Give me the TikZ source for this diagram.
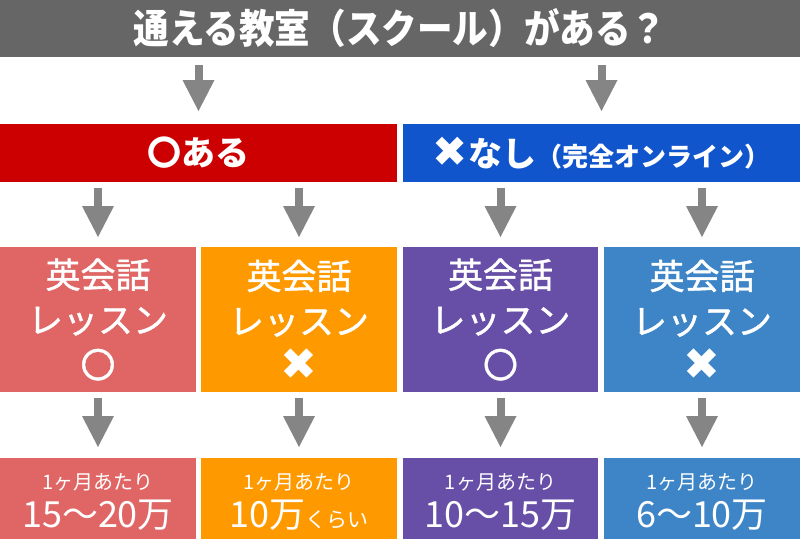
\documentclass[tikz,border=0pt]{standalone}
\usepackage{graphicx}
\usepackage{fontspec}
\setmainfont{Noto Sans CJK JP}
\newfontfamily\medfont[FakeBold=1.2]{Noto Sans CJK JP}
\newfontfamily\symfont{DejaVu Sans}
\usetikzlibrary{arrows.meta}
\definecolor{topgray}{HTML}{666666}
\definecolor{arrowgray}{HTML}{858585}
\definecolor{yesred}{HTML}{CC0000}
\definecolor{noblue}{HTML}{1155CC}
\definecolor{salmon}{HTML}{E06666}
\definecolor{orangeb}{HTML}{FF9900}
\definecolor{purpleb}{HTML}{674EA7}
\definecolor{blueb}{HTML}{3D85C6}
\newcommand{\crossmark}[1]{{\symfont\fontsize{#1}{#1}\selectfont\char"2716}}
\begin{document}
\begin{tikzpicture}[x=1pt,y=-1pt,
  every node/.style={inner sep=0pt, outer sep=0pt, text=white},
  barbox/.style={rectangle, minimum width=397pt, minimum height=58pt,
     font=\bfseries\fontsize{34}{40}\selectfont},
  midbox/.style={rectangle, minimum height=145pt, align=center,
     font=\medfont\fontsize{35}{45}\selectfont},
  lowbox/.style={rectangle, minimum height=81pt},
  smalltxt/.style={anchor=base, font=\fontsize{20}{24}\selectfont},
  bigtxt/.style={anchor=base, font=\fontsize{36}{40}\selectfont},
  arr/.style={draw=arrowgray, line width=8pt,
     -{Triangle[width=32pt,length=31pt,line width=0pt]}}
]
\useasboundingbox (0,0) rectangle (800,539);
\fill[white] (0,0) rectangle (800,539);

\node[rectangle, fill=topgray, minimum width=800pt, minimum height=57pt,
  font=\bfseries\fontsize{40}{44}\selectfont] (title) at (400,28.5)
  {\scalebox{0.89}[1]{通える教室（スクール）がある？}};

\node[barbox, fill=yesred] (yes) at (198.5,153) {〇ある};
\node[barbox, fill=noblue] (no) at (601.5,153)
  {\crossmark{42}なし{\fontsize{26}{30}\selectfont （完全オンライン）}};

\node[midbox, fill=salmon, minimum width=196pt] (m1) at (98,319.5)
  {英会話\\レッスン\\〇};
\node[midbox, fill=orangeb, minimum width=196pt] (m2) at (299,319.5)
  {英会話\\レッスン\\\crossmark{44}};
\node[midbox, fill=purpleb, minimum width=195pt] (m3) at (500.5,319.5)
  {英会話\\レッスン\\〇};
\node[midbox, fill=blueb, minimum width=196pt] (m4) at (702,319.5)
  {英会話\\レッスン\\\crossmark{44}};

\node[lowbox, fill=salmon, minimum width=196pt] (b1) at (98,498.5) {};
\node[lowbox, fill=orangeb, minimum width=196pt] (b2) at (299,498.5) {};
\node[lowbox, fill=purpleb, minimum width=195pt] (b3) at (500.5,498.5) {};
\node[lowbox, fill=blueb, minimum width=196pt] (b4) at (702,498.5) {};

\node[smalltxt] (s1) at (98,489) {1ヶ月あたり};
\node[smalltxt] (s2) at (299,489) {1ヶ月あたり};
\node[smalltxt] (s3) at (500.5,489) {1ヶ月あたり};
\node[smalltxt] (s4) at (702,489) {1ヶ月あたり};
\node[bigtxt] (p1) at (98,527) {15〜20万};
\node[bigtxt] (p2) at (299,527) {10万{\fontsize{21}{24}\selectfont くらい}};
\node[bigtxt] (p3) at (500.5,527) {10〜15万};
\node[bigtxt] (p4) at (702,527) {6〜10万};

\draw[arr, shorten <=8pt, shorten >=13pt] (yes.north |- title.south) -- (yes.north);
\draw[arr, shorten <=8pt, shorten >=13pt] (no.north |- title.south) -- (no.north);
\foreach \m/\b in {m1/yes, m2/yes, m3/no, m4/no}
  \draw[arr, shorten <=6pt, shorten >=10pt] (\m.north |- \b.south) -- (\m.north);
\foreach \m/\b in {m1/b1, m2/b2, m3/b3, m4/b4}
  \draw[arr, shorten <=6pt, shorten >=11pt] (\m.south) -- (\b.north);
\end{tikzpicture}
\end{document}
